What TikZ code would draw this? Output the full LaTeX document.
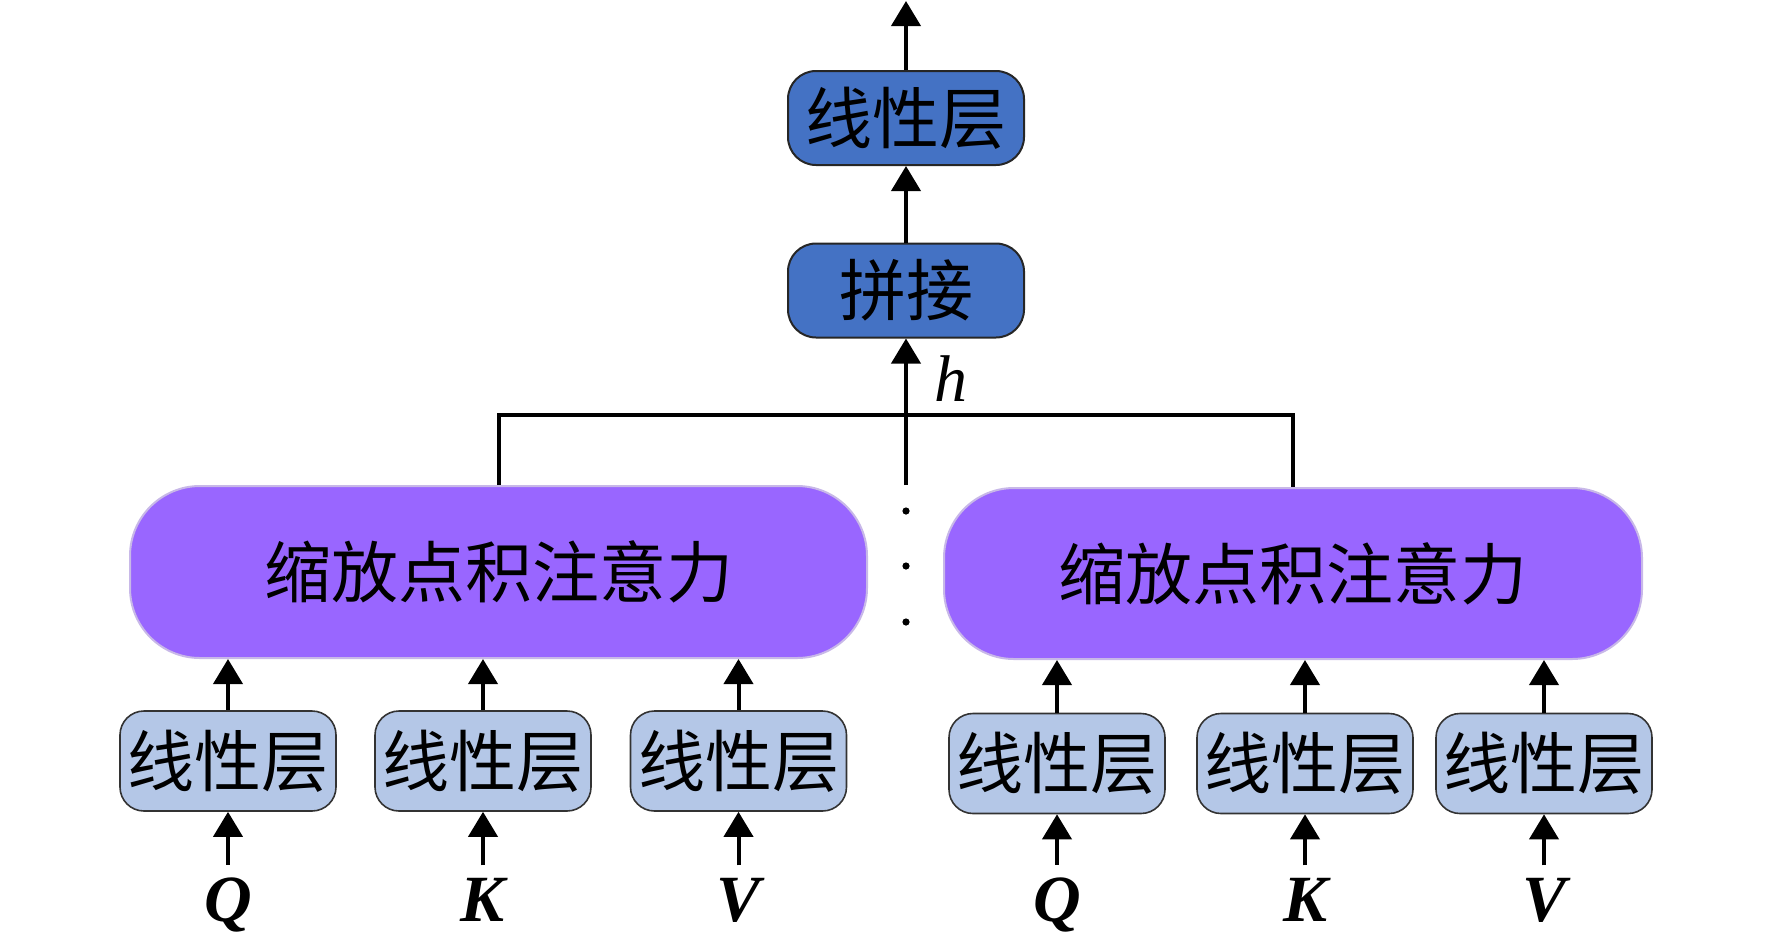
\documentclass[tikz,border=0pt]{standalone}
\usepackage{fontspec}
\setmainfont{Liberation Serif}
\newfontfamily\cjk{Noto Sans CJK SC}
\usetikzlibrary{arrows.meta}
\definecolor{topblue}{HTML}{4472C4}
\definecolor{lightblue}{HTML}{B4C7E7}
\definecolor{purp}{HTML}{9966FF}
\definecolor{purpborder}{HTML}{C8B8E8}
\begin{document}
\begin{tikzpicture}[x=0.5pt,y=-0.5pt,
  cjkfont/.style={font=\cjk\fontsize{33.5pt}{33.5pt}\selectfont},
  topbox/.style={draw=black!85, line width=1pt, fill=topblue, rounded corners=14pt,
    minimum width=118pt, minimum height=47pt, inner sep=0pt, cjkfont},
  linbox/.style={draw=black!80, line width=0.8pt, fill=lightblue, rounded corners=12pt,
    minimum width=108pt, minimum height=50pt, inner sep=0pt, cjkfont},
  attbox/.style={draw=purpborder, line width=1pt, fill=purp, rounded corners=35pt,
    inner sep=0pt, cjkfont},
  arr/.style={line width=2pt, -{Triangle[width=14.5pt,length=12.5pt]}},
  conn/.style={line width=2pt},
  lbl/.style={font=\bfseries\itshape\fontsize{33pt}{33pt}\selectfont, inner sep=0pt, anchor=base},
  dotnode/.style={circle, fill=black, inner sep=0pt, minimum size=3.6pt}
]
\useasboundingbox (0,0) rectangle (1772,944);

% top
\node[topbox] (lin) at (906,118) {线性层};
\node[topbox] (cat) at (906,290.5) {拼接};
\coordinate (out) at (906,1);
\draw[arr] (lin.north) -- (out);
\draw[arr] (cat.north) -- (lin.south);

% attention boxes
\node[attbox, minimum width=368.5pt, minimum height=86pt] (att1) at (498.5,572) {缩放点积注意力};
\node[attbox, minimum width=349pt, minimum height=85.5pt] (att2) at (1293,573.5) {缩放点积注意力};

% h connector
\coordinate (hbot) at (906,485);
\draw[arr] (hbot) -- (cat.south);
\draw[conn] (att1.north) -- ++(0,-70) -| (att2.north);
\node[font=\itshape\fontsize{33pt}{33pt}\selectfont, inner sep=0pt, anchor=base west] (h) at (934,401) {h};

% dots
\node[dotnode] (d1) at (906,511) {};
\node[dotnode] (d2) at (906,566) {};
\node[dotnode] (d3) at (906,622) {};

% linear layers
\node[linbox] (l1) at (228,761) {线性层};
\node[linbox] (l2) at (483,761) {线性层};
\node[linbox] (l3) at (738.5,761) {线性层};
\node[linbox] (l4) at (1057,763.5) {线性层};
\node[linbox] (l5) at (1305,763.5) {线性层};
\node[linbox] (l6) at (1544,763.5) {线性层};

\foreach \i in {1,2,3}{
  \draw[arr] (l\i.north) -- (l\i.north |- att1.south);
}
\foreach \i in {4,5,6}{
  \draw[arr] (l\i.north) -- (l\i.north |- att2.south);
}

% inputs
\node[lbl] (q1) at (228,921) {Q};
\node[lbl] (k1) at (483,921) {K};
\node[lbl] (v1) at (738.5,921) {V};
\node[lbl] (q2) at (1057,921) {Q};
\node[lbl] (k2) at (1305,921) {K};
\node[lbl] (v2) at (1544,921) {V};

\draw[arr] ([yshift=6pt]q1.north) -- (l1.south);
\draw[arr] ([yshift=6pt]k1.north) -- (l2.south);
\draw[arr] ([yshift=6pt]v1.north) -- (l3.south);
\draw[arr] ([yshift=6pt]q2.north) -- (l4.south);
\draw[arr] ([yshift=6pt]k2.north) -- (l5.south);
\draw[arr] ([yshift=6pt]v2.north) -- (l6.south);
\end{tikzpicture}
\end{document}
